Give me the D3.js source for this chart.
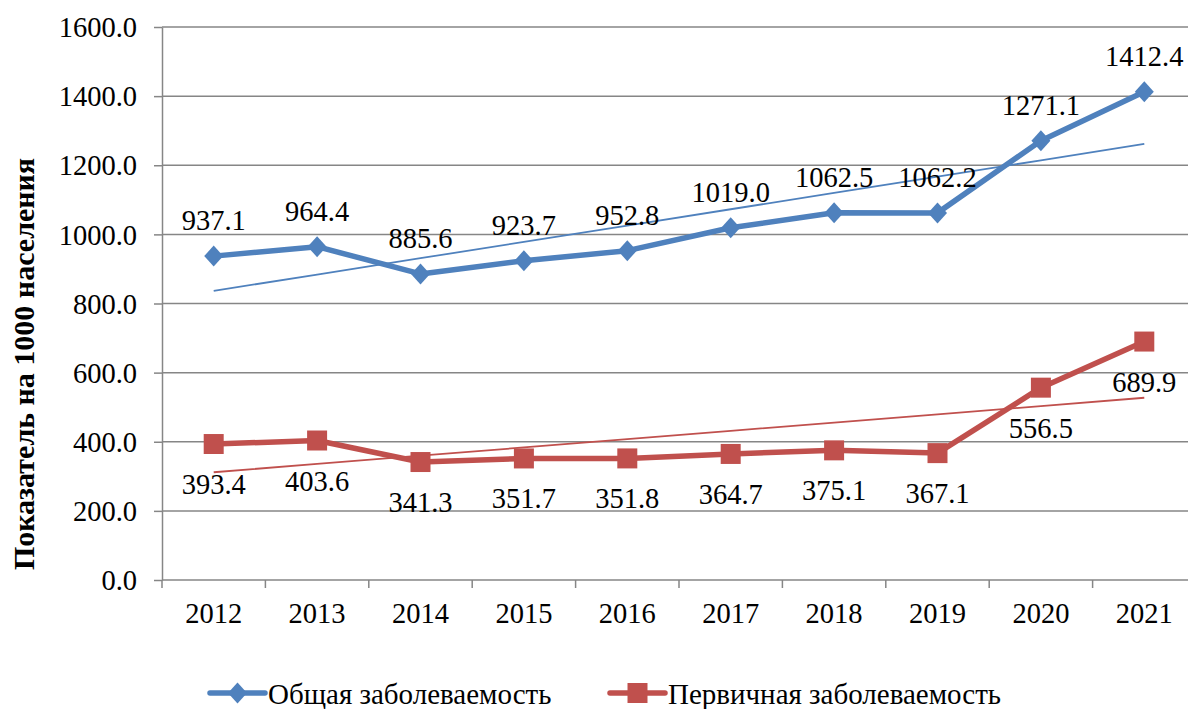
<!DOCTYPE html>
<html lang="ru">
<head>
<meta charset="utf-8">
<title>Заболеваемость 2012-2021</title>
<script src="https://cdn.jsdelivr.net/npm/d3@7"></script>
<style>
  body { margin: 0; background: #fff; }
  svg { display: block; font-family: "Liberation Serif", "Times New Roman", serif; }
  .grid line, .axis line, .axis path { stroke: #868686; stroke-width: 1.5; }
  .axis text { font-family: "Liberation Serif", "Times New Roman", serif; font-size: 28.5px; fill: #000; }
  .lbl { font-size: 28.5px; fill: #000; text-anchor: middle; }
</style>
</head>
<body>
<div id="chart"></div>
<script>
// data
var years = ["2012", "2013", "2014", "2015", "2016", "2017", "2018", "2019", "2020", "2021"];
var total = [937.1, 964.4, 885.6, 923.7, 952.8, 1019.0, 1062.5, 1062.2, 1271.1, 1412.4];
var primary = [393.4, 403.6, 341.3, 351.7, 351.8, 364.7, 375.1, 367.1, 556.5, 689.9];
var yTicks = [0, 200, 400, 600, 800, 1000, 1200, 1400, 1600];
var seriesNames = ["Общая заболеваемость", "Первичная заболеваемость"];

var W = 1188, H = 709;
var plotLeft = 162, plotRight = 1196, plotTop = 27, plotBottom = 580;

var blue = "#4f81bd", red = "#c0504d";

var svg = d3.select("#chart").append("svg")
  .attr("width", W)
  .attr("height", H);

var x = d3.scaleBand().domain(years).range([plotLeft, plotRight]);
var y = d3.scaleLinear().domain([0, 1600]).range([plotBottom, plotTop]);
var cx = function (d, i) { return x(years[i]) + x.bandwidth() / 2; };

// gridlines
svg.append("g").attr("class", "grid")
  .selectAll("line")
  .data(yTicks.slice(1))
  .join("line")
  .attr("x1", plotLeft).attr("x2", W)
  .attr("y1", function (d) { return y(d); })
  .attr("y2", function (d) { return y(d); });

// y axis
var yAxis = svg.append("g").attr("class", "axis")
  .attr("transform", "translate(" + plotLeft + ",0)")
  .call(d3.axisLeft(y).tickValues(yTicks).tickFormat(d3.format(".1f")).tickSize(8).tickSizeOuter(0).tickPadding(17));
yAxis.attr("font-family", null);
yAxis.selectAll("text").attr("dy", "0.34em");

// x axis, ticks on band boundaries
var xAxis = svg.append("g").attr("class", "axis")
  .attr("transform", "translate(0," + plotBottom + ")");
xAxis.append("line").attr("x1", plotLeft).attr("x2", W);
xAxis.selectAll("line.tk")
  .data(d3.range(years.length + 1))
  .join("line").attr("class", "tk")
  .attr("x1", function (k) { return plotLeft + k * x.step(); })
  .attr("x2", function (k) { return plotLeft + k * x.step(); })
  .attr("y1", 0).attr("y2", 8);
xAxis.selectAll("text")
  .data(years)
  .join("text")
  .attr("x", function (d) { return x(d) + x.bandwidth() / 2; })
  .attr("y", 43)
  .attr("text-anchor", "middle")
  .text(function (d) { return d; });

// y title
svg.append("text")
  .attr("transform", "translate(34,364) rotate(-90)")
  .attr("text-anchor", "middle")
  .style("font-size", "30px")
  .style("font-weight", "bold")
  .text("Показатель на 1000 населения");

// linear trend (least squares) drawn from the series
function trend(vals) {
  var n = vals.length, mx = (n - 1) / 2, my = d3.mean(vals);
  var sxy = d3.sum(vals, function (v, i) { return (i - mx) * (v - my); });
  var sxx = d3.sum(vals, function (v, i) { return (i - mx) * (i - mx); });
  var b = sxy / sxx, a = my - b * mx;
  return vals.map(function (v, i) { return a + b * i; });
}

var line = d3.line().x(cx).y(function (d) { return y(d); });

function drawSeries(vals, color, shape, labelDy) {
  svg.append("path")
    .datum(trend(vals))
    .attr("fill", "none")
    .attr("stroke", color)
    .attr("stroke-width", 1.8)
    .attr("d", line);

  svg.append("path")
    .datum(vals)
    .attr("fill", "none")
    .attr("stroke", color)
    .attr("stroke-width", 5.5)
    .attr("stroke-linejoin", "round")
    .attr("d", line);

  svg.selectAll(null)
    .data(vals)
    .join("path")
    .attr("fill", color)
    .attr("transform", function (d, i) { return "translate(" + cx(d, i) + "," + y(d) + ")"; })
    .attr("d", shape);

  svg.selectAll(null)
    .data(vals)
    .join("text")
    .attr("class", "lbl")
    .attr("x", cx)
    .attr("y", function (d) { return y(d) + labelDy; })
    .text(function (d) { return d.toFixed(1); });
}

var diamond = "M0,-10.5L9.5,0L0,10.5L-9.5,0Z";
var square = "M-10,-10H10V10H-10Z";

drawSeries(total, blue, diamond, -26);
drawSeries(primary, red, square, 50);

// legend
var legend = [
  { name: seriesNames[0], color: blue, shape: diamond, x0: 210 },
  { name: seriesNames[1], color: red, shape: square, x0: 610 }
];
var lg = svg.selectAll("g.leg")
  .data(legend)
  .join("g").attr("class", "leg")
  .attr("transform", function (d) { return "translate(" + d.x0 + ",693)"; });
lg.append("line")
  .attr("x1", 0).attr("x2", 55)
  .attr("stroke", function (d) { return d.color; })
  .attr("stroke-width", 5.5)
  .attr("stroke-linecap", "round");
lg.append("path")
  .attr("transform", "translate(27.5,0)")
  .attr("fill", function (d) { return d.color; })
  .attr("d", function (d) { return d.shape; });
lg.append("text")
  .attr("x", 58)
  .attr("y", 11)
  .style("font-size", "29px")
  .text(function (d) { return d.name; });
</script>
</body>
</html>
